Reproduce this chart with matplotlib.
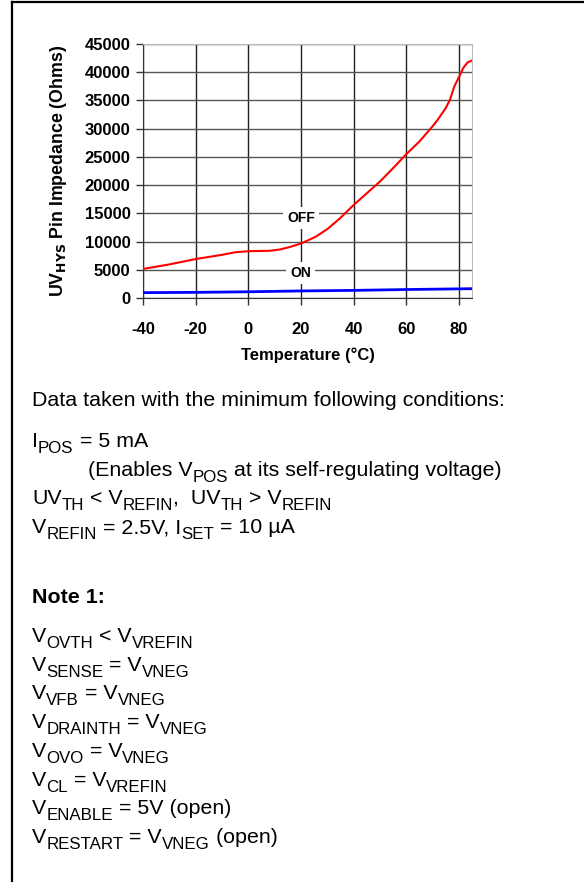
import matplotlib
matplotlib.use("Agg")
import matplotlib.pyplot as plt
from matplotlib.lines import Line2D

plt.rcParams['font.family'] = ['Liberation Sans', 'DejaVu Sans']
plt.rcParams['axes.unicode_minus'] = False

# impedance vs temperature
temp_off = [-40, -30, -20, -10, -5, 0, 4, 8, 12, 16, 20, 25.6, 30.3, 34.8, 40, 45, 50, 55, 60, 65,
            70, 72, 75, 76.6, 78.3, 80, 81.7, 83.4, 85]
ohms_off = [5150, 5950, 6900, 7650, 8100, 8290, 8330, 8360, 8590, 9060, 9650, 10840, 12300, 14100,
            16470, 18540, 20620, 22990, 25470, 27720, 30400, 31600, 33640, 35100, 37500, 39100,
            40770, 41770, 42060]
temp_on = [-40, -20, 0, 20, 40, 60, 85]
ohms_on = [950, 1000, 1100, 1250, 1350, 1500, 1650]

xticks = [-40, -20, 0, 20, 40, 60, 80]
yticks = [0, 5000, 10000, 15000, 20000, 25000, 30000, 35000, 40000, 45000]

W, H = 584, 882
fig = plt.figure(figsize=(W / 100, H / 100), dpi=100)

ax = fig.add_axes([143 / W, 1 - 298 / H, (472 - 143) / W, (298 - 44) / H])
ax.plot(temp_off, ohms_off, color="#ff0000", lw=1.5, zorder=3)
ax.plot(temp_on, ohms_on, color="#0000ff", lw=2, zorder=3)
ax.set_xlim(-40, 85)
ax.set_ylim(0, 45000)
ax.set_xticks(xticks)
ax.set_yticks(yticks)
ax.xaxis.grid(True, color="#222222", lw=1)
ax.yaxis.grid(True, color="#555555", lw=1)
ax.set_axisbelow(True)
for s in ["top", "right"]:
    ax.spines[s].set_color("#bbbbbb")
for s in ["left", "bottom"]:
    ax.spines[s].set_color("#333333")
ax.tick_params(direction="out", length=5, width=1, color="#333333", labelsize=12, pad=4)
ax.tick_params(axis="x", pad=12)
for lab in ax.get_xticklabels() + ax.get_yticklabels():
    lab.set_fontweight("bold")
ax.set_xlabel("Temperature (°C)", fontsize=12, fontweight="bold", labelpad=8)
ax.set_ylabel(r"UV$_{\mathbf{HYS}}$ Pin Impedance (Ohms)", fontsize=12.8, fontweight="bold", labelpad=11)

box = dict(facecolor="white", edgecolor="none", pad=3)
ax.text(20, 14200, "OFF", ha="center", va="center", fontsize=10, fontweight="bold", bbox=box, zorder=4)
ax.text(20, 4400, "ON", ha="center", va="center", fontsize=10, fontweight="bold", bbox=box, zorder=4)

# frame around the page (left and top only)
fig.add_artist(Line2D([11.5 / W, 11.5 / W], [0, 1 - 1.5 / H], color="black", lw=1.6))
fig.add_artist(Line2D([11.5 / W, 1], [1 - 1.5 / H, 1 - 1.5 / H], color="black", lw=1.6))

renderer = fig.canvas.get_renderer()
MAIN = 15.4
SUB = 12.2


def write_line(x, y, parts, weight="normal"):
    # parts: list of (text, is_subscript); x, y in pixels from top-left, y = baseline
    for txt, sub in parts:
        yy = y + 6 if sub else y
        t = fig.text(x / W, 1 - yy / H, txt, fontsize=SUB if sub else MAIN,
                     fontweight=weight, ha="left", va="baseline")
        x += t.get_window_extent(renderer).width


write_line(32, 406, [("Data taken with the minimum following conditions:", False)])
write_line(32, 447, [("I", False), ("POS", True), (" = 5 mA", False)])
write_line(88, 476, [("(Enables V", False), ("POS", True), (" at its self-regulating voltage)", False)])
write_line(32, 504, [("UV", False), ("TH", True), (" < V", False), ("REFIN", True), (",  UV", False),
                     ("TH", True), (" > V", False), ("REFIN", True)])
write_line(32, 533, [("V", False), ("REFIN", True), (" = 2.5V, I", False), ("SET", True), (" = 10 µA", False)])

write_line(32, 603, [("Note 1:", False)], weight="bold")

notes = [
    [("V", False), ("OVTH", True), (" < V", False), ("VREFIN", True)],
    [("V", False), ("SENSE", True), (" = V", False), ("VNEG", True)],
    [("V", False), ("VFB", True), (" = V", False), ("VNEG", True)],
    [("V", False), ("DRAINTH", True), (" = V", False), ("VNEG", True)],
    [("V", False), ("OVO", True), (" = V", False), ("VNEG", True)],
    [("V", False), ("CL", True), (" = V", False), ("VREFIN", True)],
    [("V", False), ("ENABLE", True), (" = 5V (open)", False)],
    [("V", False), ("RESTART", True), (" = V", False), ("VNEG", True), (" (open)", False)],
]
for i, parts in enumerate(notes):
    write_line(32, 642 + i * 28.7, parts)

fig.savefig("out.png", dpi=100)
